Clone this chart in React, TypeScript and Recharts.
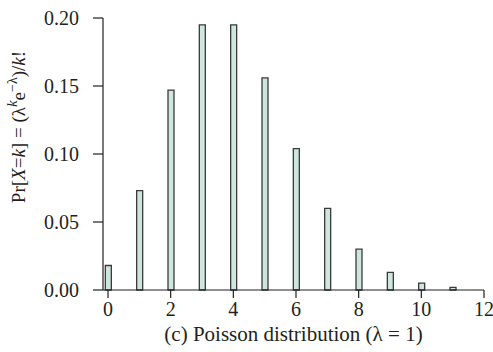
import React from 'react';
import { BarChart, Bar, XAxis, YAxis } from 'recharts';

const ks = [0, 1, 2, 3, 4, 5, 6, 7, 8, 9, 10, 11];
const probs = [0.018, 0.073, 0.147, 0.195, 0.195, 0.156, 0.104, 0.06, 0.03, 0.013, 0.005, 0.002];
const xTicks = [0, 2, 4, 6, 8, 10, 12];
const yTicks = [0, 0.05, 0.1, 0.15, 0.2];

const data = ks.map((k, i) => ({ k, p: probs[i] }));

const FONT = '"Liberation Serif", "DejaVu Serif", serif';
const INK = '#231f20';

const YLabel = () => (
  <text
    x={0}
    y={0}
    transform="translate(25,127) rotate(-90)"
    textAnchor="middle"
    fontFamily={FONT}
    fontSize={19}
    fill={INK}
  >
    <tspan>Pr[</tspan>
    <tspan fontStyle="italic">X</tspan>
    <tspan>=</tspan>
    <tspan fontStyle="italic">k</tspan>
    <tspan>] = (λ</tspan>
    <tspan fontStyle="italic" fontSize={15} dy={-8}>k</tspan>
    <tspan dy={8}>e</tspan>
    <tspan fontSize={14} dy={-8}>−λ</tspan>
    <tspan dy={8}>)/</tspan>
    <tspan fontStyle="italic">k</tspan>
    <tspan>!</tspan>
  </text>
);

export default function App() {
  return (
    <div style={{ position: 'absolute', left: 0, top: 0, width: 493, height: 352, background: '#fff' }}>
      <BarChart
        width={493}
        height={352}
        data={data}
        margin={{ top: 18, right: 9, left: 0, bottom: 0 }}
        barSize={6}
      >
        <XAxis
          dataKey="k"
          type="number"
          domain={[0, 12]}
          ticks={xTicks}
          padding={{ left: 5, right: 0 }}
          height={62}
          tickSize={8}
          tickMargin={4}
          axisLine={{ stroke: INK, strokeWidth: 1.2 }}
          tickLine={{ stroke: INK, strokeWidth: 1.2 }}
          tick={{ fill: INK, fontFamily: FONT, fontSize: 20 }}
          interval={0}
          label={{
            value: '(c) Poisson distribution (λ = 1)',
            position: 'insideBottom',
            offset: 11,
            fill: INK,
            fontFamily: FONT,
            fontSize: 21,
          }}
        />
        <YAxis
          type="number"
          domain={[0, 0.2]}
          ticks={yTicks}
          width={103}
          tickSize={10}
          tickMargin={14}
          axisLine={{ stroke: INK, strokeWidth: 1.2 }}
          tickLine={{ stroke: INK, strokeWidth: 1.2 }}
          tick={{ fill: INK, fontFamily: FONT, fontSize: 20 }}
          tickFormatter={(v: number) => v.toFixed(2)}
          label={<YLabel />}
        />
        <Bar dataKey="p" fill="#cfe6df" stroke="#3a3a3a" strokeWidth={1.3} isAnimationActive={false} />
      </BarChart>
    </div>
  );
}
